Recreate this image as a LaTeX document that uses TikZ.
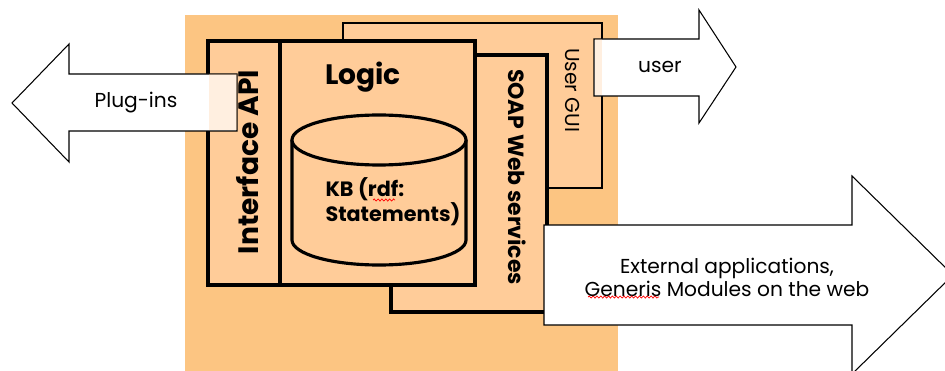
\documentclass[tikz,border=0pt]{standalone}
\usepackage{fontspec}
\setmainfont{Poppins}
\usetikzlibrary{decorations.pathmorphing}
\definecolor{peach}{RGB}{255,204,153}
\definecolor{bgorange}{RGB}{252,197,130}
\tikzset{
  peachbox/.style={draw=black, fill=peach},
  blockarrow/.style={draw=black, fill=white, line width=0.6pt, line join=miter},
  overlap/.style={fill=peach, fill opacity=0.3},
  titletext/.style={font=\fontsize{16}{18}\selectfont\bfseries},
  plaintext/.style={font=\fontsize{11.5}{13}\selectfont},
  squiggle/.style={red, line width=0.4pt, decorate,
    decoration={snake, amplitude=0.6pt, segment length=2.2pt}}
}
\begin{document}
\begin{tikzpicture}[x=0.02cm, y=-0.02cm]
  \useasboundingbox (0,0) rectangle (945,371);
  \clip (0,0) rectangle (945,371);
  % orange backdrop
  \fill[bgorange] (185,15) rectangle (618,380);
  % boxes, back to front
  \draw[peachbox, line width=0.8pt] (343,23) rectangle (602,188);
  \draw[peachbox, line width=1.8pt] (391,55) rectangle (547,312);
  \draw[peachbox, line width=2.2pt] (208,41) rectangle (475,285);
  \draw[line width=2.2pt] (280,41) -- (280,285);
  % knowledge base cylinder
  \draw[peachbox, line width=1.8pt] (292,140) -- (292,240)
    arc[start angle=180, end angle=0, x radius=87, y radius=25]
    -- (466,140);
  \draw[peachbox, line width=1.8pt] (379,140) ellipse [x radius=87, y radius=25];
  % block arrows
  \draw[blockarrow] (237,74) -- (69,74) -- (69,44) -- (12,103)
    -- (69,162) -- (69,131) -- (237,131) -- cycle;
  \fill[overlap] (209,74.5) rectangle (236.5,130.5);
  \draw[blockarrow] (594,39) -- (699,39) -- (699,10) -- (736,67)
    -- (699,123) -- (699,96) -- (594,96) -- cycle;
  \fill[overlap] (594.5,39.5) rectangle (602,95.5);
  \draw[blockarrow] (544,225) -- (852,225) -- (852,176) -- (953,275)
    -- (852,374) -- (852,325) -- (544,325) -- cycle;
  % labels
  \node[titletext, rotate=90] (api) at (248,162) {Interface API};
  \node[titletext] (logic) at (363,77) {Logic};
  \node[font=\fontsize{11.8}{14}\selectfont\bfseries, align=left] (kb) at (393,202)
    {KB (rdf:\\Statements)};
  \node[font=\fontsize{12.5}{14}\selectfont\bfseries, rotate=-90] (soap) at (517,177)
    {SOAP Web services};
  \node[plaintext, rotate=-90] (gui) at (573,90) {User GUI};
  \node[plaintext] (plugins) at (136,103) {Plug-ins};
  \node[plaintext] (user) at (660,67) {user};
  \node[plaintext, align=center] (ext) at (727,277)
    {External applications,\\Generis Modules on the web};
  % spell-check marks
  \draw[squiggle] (373,200) -- (395,200);
  \draw[squiggle] (588,297) -- (659,297);
\end{tikzpicture}
\end{document}
